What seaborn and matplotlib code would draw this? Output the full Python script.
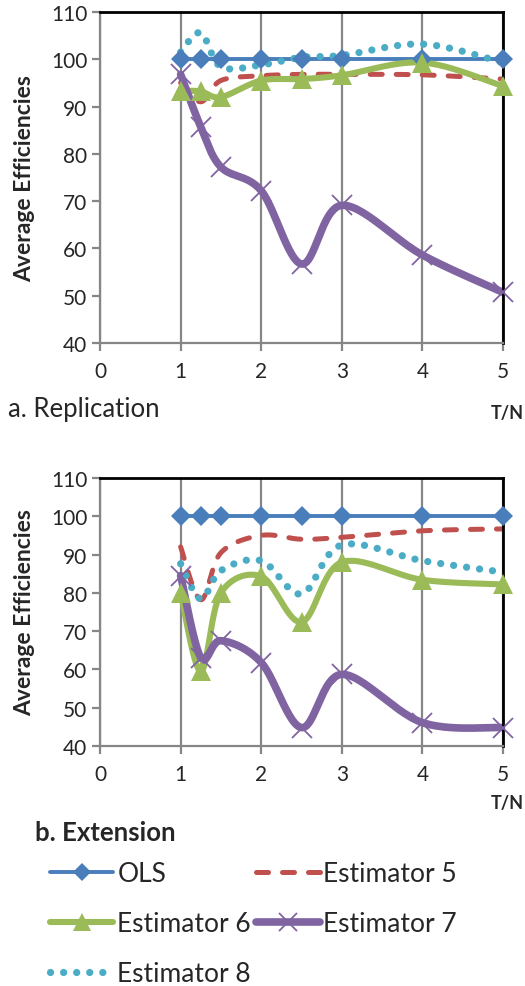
import numpy as np
import matplotlib
matplotlib.use('Agg')
import matplotlib.pyplot as plt
import seaborn as sns
from matplotlib.lines import Line2D

sns.set_style('white')
plt.rcParams['font.family'] = ['Lato', 'DejaVu Sans']

# T/N values shared by both panels
tn = [1, 1.25, 1.5, 2, 2.5, 3, 4, 5]

# a. Replication
rep_ols = [100, 100, 100, 100, 100, 100, 100, 100]
rep_est5 = [95, 91, 95.5, 96.5, 96.8, 96.8, 96.7, 95.8]
rep_est6 = [93.3, 93.2, 92.0, 95.5, 95.8, 96.6, 99.3, 94.3]
rep_est7 = [96.8, 85.7, 77.2, 72.2, 56.7, 69.1, 58.6, 50.7]
rep_est8 = [101.5, 105.6, 98.4, 98.8, 100.4, 100.8, 103.2, 99.3]

# b. Extension
ext_ols = [100, 100, 100, 100, 100, 100, 100, 100]
ext_est5 = [92.0, 78.2, 90.5, 95.0, 94.0, 94.5, 96.2, 96.7]
ext_est6 = [80.0, 59.5, 80.0, 84.3, 72.4, 88.0, 83.4, 82.2]
ext_est7 = [84.5, 63.1, 67.5, 61.8, 44.8, 58.7, 46.1, 44.8]
ext_est8 = [87.6, 78.4, 85.8, 88.4, 79.7, 92.5, 88.4, 85.4]

labels = ['OLS', 'Estimator 5', 'Estimator 6', 'Estimator 7', 'Estimator 8']

styles = {
    'OLS': dict(color='#4A7EBB', lw=2.8, ls='-', marker='D', ms=10, mew=0),
    'Estimator 5': dict(color='#C0504D', lw=3.6, ls=(0, (2.4, 2.8)), marker=None),
    'Estimator 6': dict(color='#9BBB59', lw=4.4, ls='-', marker='^', ms=14, mew=0),
    'Estimator 7': dict(color='#8064A2', lw=5.5, ls='-', marker='x', ms=15, mew=1.3),
    'Estimator 8': dict(color='#4BACC6', lw=5.2, ls=(0, (0.01, 1.8)), marker=None),
}


def smooth(x, y, n=30):
    # excel style smoothed line: bezier with 1/6 neighbour tangents
    x = np.asarray(x, float)
    y = np.asarray(y, float)
    px = np.concatenate([[x[0]], x, [x[-1]]])
    py = np.concatenate([[y[0]], y, [y[-1]]])
    t = np.linspace(0, 1, n)[:, None]
    xs, ys = [], []
    for i in range(1, len(px) - 2):
        p0 = np.array([px[i], py[i]])
        p3 = np.array([px[i + 1], py[i + 1]])
        c1 = p0 + (p3 - np.array([px[i - 1], py[i - 1]])) / 6
        c2 = p3 - (np.array([px[i + 2], py[i + 2]]) - p0) / 6
        b = ((1 - t) ** 3) * p0 + 3 * ((1 - t) ** 2) * t * c1 + 3 * (1 - t) * t ** 2 * c2 + t ** 3 * p3
        xs.append(b[:, 0])
        ys.append(b[:, 1])
    return np.concatenate(xs), np.concatenate(ys)


def draw_panel(ax, series):
    for name, vals in zip(labels, series):
        st = styles[name]
        sx, sy = smooth(tn, vals)
        sns.lineplot(x=sx, y=sy, sort=False, estimator=None, ax=ax, color=st['color'],
                     lw=st['lw'], ls=st['ls'], solid_capstyle='round', dash_capstyle='round')
        if st['marker']:
            ax.plot(tn, vals, ls='none', marker=st['marker'], ms=st['ms'], color=st['color'],
                    mew=st['mew'], clip_on=False, zorder=5)
    ax.set_xlim(0, 5)
    ax.set_ylim(40, 110)
    ax.set_xticks(range(0, 6))
    ax.set_yticks(range(40, 111, 10))
    ax.grid(axis='x', color='#868686', lw=1.6)
    ax.grid(axis='y', visible=False)
    ax.set_axisbelow(True)
    for s in ['left', 'bottom']:
        ax.spines[s].set_color('#868686')
        ax.spines[s].set_linewidth(1.6)
    for s in ['top', 'right']:
        ax.spines[s].set_color('black')
        ax.spines[s].set_linewidth(2)
    ax.tick_params(axis='both', direction='out', length=6, width=1.6, color='#868686',
                   labelsize=15, left=True, bottom=True, pad=3)
    ax.tick_params(axis='x', pad=7)
    ax.set_ylabel('Average Efficiencies', fontsize=16.5, fontweight='bold')
    ax.set_xlabel('')


fig = plt.figure(figsize=(5.25, 9.87), dpi=100)
ax1 = fig.add_axes([0.1905, 0.6515, 0.7676, 0.3354])
ax2 = fig.add_axes([0.1905, 0.2432, 0.7676, 0.2715])

draw_panel(ax1, [rep_ols, rep_est5, rep_est6, rep_est7, rep_est8])
draw_panel(ax2, [ext_ols, ext_est5, ext_est6, ext_est7, ext_est8])
ax1.yaxis.set_label_coords(-0.16, 0.5)
ax2.yaxis.set_label_coords(-0.16, 0.5)

fig.text(8 / 525, 1 - 410 / 987, 'a. Replication', fontsize=18.5, va='center', ha='left')
fig.text(524 / 525, 1 - 413 / 987, 'T/N', fontsize=13, fontweight='bold', va='center', ha='right')
fig.text(524 / 525, 1 - 803 / 987, 'T/N', fontsize=13, fontweight='bold', va='center', ha='right')
fig.text(35 / 525, 1 - 833 / 987, 'b. Extension', fontsize=18.5, fontweight='bold', va='center', ha='left')

handles = {}
for name in labels:
    st = styles[name]
    handles[name] = Line2D([], [], color=st['color'], lw=st['lw'], ls=st['ls'],
                           marker=st['marker'], ms=st['ms'] * 0.9 if st['marker'] else 0,
                           mew=st['mew'] if st['marker'] else 0,
                           solid_capstyle='round', dash_capstyle='round')
order = ['OLS', 'Estimator 6', 'Estimator 8', 'Estimator 5', 'Estimator 7']
fig.legend([handles[k] for k in order], order, loc='upper left',
           bbox_to_anchor=(50 / 525, 1 - 862 / 987), ncol=2, frameon=False,
           fontsize=19, handlelength=2.4, handletextpad=0.15, columnspacing=0.2,
           labelspacing=0.95, borderaxespad=0, borderpad=0)

fig.savefig('out.png', dpi=100)
